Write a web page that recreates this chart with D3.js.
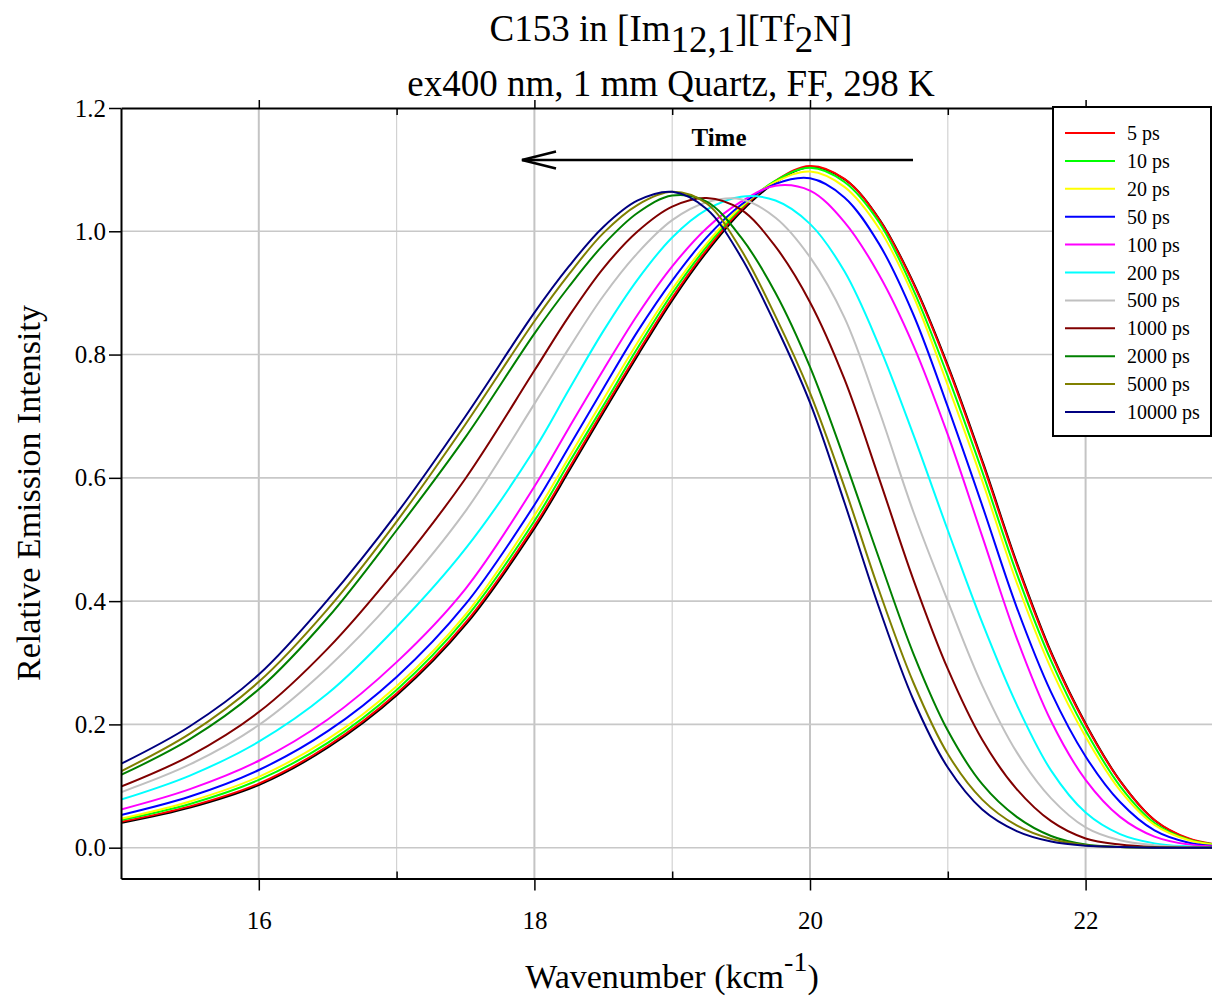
<!DOCTYPE html>
<html>
<head>
<meta charset="utf-8">
<script src="https://cdn.jsdelivr.net/npm/d3@7"></script>
<style>
  body { margin: 0; background: #fff; }
  svg { display: block; font-family: 'Liberation Serif', 'Times New Roman', serif; }
</style>
</head>
<body>
<svg id="chart" width="1212" height="996"></svg>
<script>
// wavenumber grid (kcm-1) the spectra were read at
const wavenumber = [15, 15.5, 16, 16.5, 17, 17.5, 18, 18.25, 18.5, 18.75, 19, 19.25, 19.5, 19.75,
  20, 20.25, 20.5, 20.75, 21, 21.25, 21.5, 21.75, 22, 22.25, 22.5, 22.75, 23];

const delays = ['5 ps', '10 ps', '20 ps', '50 ps', '100 ps', '200 ps', '500 ps',
  '1000 ps', '2000 ps', '5000 ps', '10000 ps'];

const intensity5 = [0.042, 0.067, 0.104, 0.165, 0.25, 0.365, 0.522, 0.615, 0.71, 0.803, 0.892, 0.97, 1.035, 1.082,
  1.106, 1.085, 1.02, 0.915, 0.78, 0.625, 0.46, 0.315, 0.2, 0.108, 0.045, 0.015, 0.004];
const intensity10 = [0.045, 0.071, 0.11, 0.17, 0.256, 0.372, 0.53, 0.624, 0.717, 0.811, 0.899, 0.975, 1.038, 1.082,
  1.103, 1.08, 1.015, 0.905, 0.765, 0.61, 0.445, 0.303, 0.19, 0.1, 0.04, 0.013, 0.004];
const intensity20 = [0.047, 0.075, 0.115, 0.176, 0.262, 0.378, 0.539, 0.633, 0.727, 0.82, 0.906, 0.98, 1.04, 1.08,
  1.097, 1.072, 1.005, 0.895, 0.75, 0.595, 0.43, 0.29, 0.18, 0.093, 0.037, 0.012, 0.003];
const intensity50 = [0.053, 0.083, 0.126, 0.189, 0.277, 0.395, 0.556, 0.65, 0.745, 0.838, 0.92, 0.99, 1.043, 1.077,
  1.086, 1.055, 0.98, 0.865, 0.715, 0.555, 0.39, 0.252, 0.148, 0.074, 0.028, 0.008, 0.002];
const intensity100 = [0.062, 0.095, 0.141, 0.208, 0.301, 0.42, 0.586, 0.681, 0.775, 0.865, 0.943, 1.005, 1.048, 1.074,
  1.066, 1.015, 0.93, 0.815, 0.67, 0.505, 0.34, 0.205, 0.11, 0.05, 0.018, 0.005, 0.001];
const intensity200 = [0.078, 0.117, 0.172, 0.25, 0.358, 0.485, 0.646, 0.743, 0.838, 0.922, 0.99, 1.035, 1.056, 1.05,
  1.012, 0.935, 0.815, 0.67, 0.515, 0.365, 0.232, 0.125, 0.057, 0.022, 0.007, 0.002, 0];
const intensity500 = [0.09, 0.135, 0.199, 0.292, 0.408, 0.546, 0.72, 0.81, 0.895, 0.965, 1.018, 1.047, 1.052, 1.022,
  0.958, 0.86, 0.71, 0.545, 0.4, 0.263, 0.155, 0.08, 0.033, 0.012, 0.004, 0.001, 0];
const intensity1000 = [0.099, 0.149, 0.22, 0.323, 0.452, 0.599, 0.774, 0.862, 0.94, 1.0, 1.04, 1.054, 1.035, 0.975,
  0.885, 0.76, 0.6, 0.435, 0.29, 0.175, 0.095, 0.043, 0.015, 0.005, 0.001, 0, 0];
const intensity2000 = [0.118, 0.176, 0.257, 0.373, 0.515, 0.666, 0.834, 0.91, 0.978, 1.03, 1.058, 1.048, 0.99, 0.9,
  0.78, 0.63, 0.47, 0.315, 0.19, 0.103, 0.05, 0.019, 0.005, 0.001, 0, 0, 0];
const intensity5000 = [0.124, 0.185, 0.269, 0.387, 0.529, 0.687, 0.854, 0.93, 0.997, 1.043, 1.064, 1.045, 0.97, 0.862,
  0.738, 0.585, 0.418, 0.268, 0.152, 0.078, 0.036, 0.014, 0.004, 0.001, 0, 0, 0];
const intensity10000 = [0.136, 0.197, 0.281, 0.402, 0.542, 0.7, 0.868, 0.943, 1.007, 1.05, 1.064, 1.036, 0.958, 0.848,
  0.722, 0.56, 0.39, 0.24, 0.13, 0.062, 0.027, 0.01, 0.003, 0.001, 0, 0, 0];

const xTicks = [16, 18, 20, 22];
const xMinorTicks = [17, 19, 21];
const yTicks = [0, 0.2, 0.4, 0.6, 0.8, 1.0, 1.2];
const yGrid = [0, 0.2, 0.4, 0.6, 0.8, 1.0];

const colors = ['#ff0000', '#00ff00', '#ffff00', '#0000ff', '#ff00ff', '#00ffff',
  '#c0c0c0', '#800000', '#008000', '#808000', '#000080'];

const series = [intensity5, intensity10, intensity20, intensity50, intensity100, intensity200,
  intensity500, intensity1000, intensity2000, intensity5000, intensity10000]
  .map((values, i) => ({ label: delays[i], values, color: colors[i] }));

const svg = d3.select('#chart');
const plotLeft = 121, plotTop = 108, plotBottom = 878.5, plotRight = 1212;

const x = d3.scaleLinear().domain([15, 23]).range([plotLeft, plotLeft + 8 * 137.8]);
const y = d3.scaleLinear().domain([-0.05, 1.2]).range([plotBottom, plotTop]);

svg.append('rect').attr('width', 1212).attr('height', 996).attr('fill', '#fff');

svg.append('clipPath').attr('id', 'plot-clip')
  .append('rect')
  .attr('x', plotLeft).attr('y', plotTop)
  .attr('width', plotRight - plotLeft).attr('height', plotBottom - plotTop);

// grid
const grid = svg.append('g').attr('class', 'grid');
grid.selectAll('.vgrid')
  .data(xTicks.concat(xMinorTicks))
  .enter().append('line')
  .attr('x1', d => x(d)).attr('x2', d => x(d))
  .attr('y1', plotTop).attr('y2', plotBottom)
  .attr('stroke', d => (d % 2 === 0 ? '#c4c4c4' : '#d2d2d2'))
  .attr('stroke-width', d => (d % 2 === 0 ? 2 : 1.2));
grid.selectAll('.hgrid')
  .data(yGrid)
  .enter().append('line')
  .attr('x1', plotLeft).attr('x2', plotRight)
  .attr('y1', d => y(d)).attr('y2', d => y(d))
  .attr('stroke', '#c8c8c8')
  .attr('stroke-width', 1.6);

// spectra
const line = d3.line()
  .x((d, i) => x(wavenumber[i]))
  .y(d => y(d))
  .curve(d3.curveCatmullRom.alpha(0.5));

const curves = svg.append('g').attr('clip-path', 'url(#plot-clip)');

// thin black edge that sits under the 5 ps trace
curves.append('path')
  .attr('d', line(intensity5))
  .attr('transform', 'translate(1,1)')
  .attr('fill', 'none')
  .attr('stroke', '#000')
  .attr('stroke-width', 2);

curves.selectAll('.spectrum')
  .data(series)
  .enter().append('path')
  .attr('class', 'spectrum')
  .attr('d', d => line(d.values))
  .attr('fill', 'none')
  .attr('stroke', d => d.color)
  .attr('stroke-width', 2)
  .attr('stroke-linejoin', 'round');

// axes
function styleAxis(g, fontSize) {
  g.attr('font-family', null).attr('font-size', fontSize);
  g.selectAll('.domain').attr('stroke', '#000').attr('stroke-width', 2);
  g.selectAll('.tick line').attr('stroke', '#000').attr('stroke-width', 1.5);
  g.selectAll('.tick text').attr('fill', '#000');
}

const axisY = d3.axisLeft(y).tickValues(yTicks).tickFormat(d3.format('.1f'))
  .tickSize(12).tickPadding(3).tickSizeOuter(0);
svg.append('g').attr('transform', `translate(${plotLeft},0)`).call(axisY).call(styleAxis, 25);

const axisX = d3.axisBottom(x).tickValues(xTicks).tickFormat(d3.format('d'))
  .tickSize(12).tickPadding(21).tickSizeOuter(0);
svg.append('g').attr('transform', `translate(0,${plotBottom})`).call(axisX).call(styleAxis, 25);

const axisXMinor = d3.axisBottom(x).tickValues(xMinorTicks).tickFormat('').tickSize(-7).tickSizeOuter(0);
svg.append('g').attr('transform', `translate(0,${plotBottom})`).call(axisXMinor).call(styleAxis, 25)
  .select('.domain').remove();

const axisTop = d3.axisTop(x).tickValues(xTicks).tickFormat('').tickSize(8).tickSizeOuter(0);
svg.append('g').attr('transform', `translate(0,${plotTop})`).call(axisTop).call(styleAxis, 25);

const axisTopMinor = d3.axisTop(x).tickValues(xMinorTicks).tickFormat('').tickSize(-7).tickSizeOuter(0);
svg.append('g').attr('transform', `translate(0,${plotTop})`).call(axisTopMinor).call(styleAxis, 25)
  .select('.domain').remove();

// titles
const title = svg.append('text')
  .attr('x', 671).attr('y', 41)
  .attr('text-anchor', 'middle').attr('font-size', 37);
title.append('tspan').text('C153 in [Im');
title.append('tspan').attr('dy', 11).text('12,1');
title.append('tspan').attr('dy', -11).text('][Tf');
title.append('tspan').attr('dy', 11).text('2');
title.append('tspan').attr('dy', -11).text('N]');

svg.append('text')
  .attr('x', 671).attr('y', 96)
  .attr('text-anchor', 'middle').attr('font-size', 37)
  .text('ex400 nm, 1 mm Quartz, FF, 298 K');

const xTitle = svg.append('text')
  .attr('x', 672).attr('y', 988)
  .attr('text-anchor', 'middle').attr('font-size', 34);
xTitle.append('tspan').text('Wavenumber (kcm');
xTitle.append('tspan').attr('dy', -17).attr('font-size', 28).text('-1');
xTitle.append('tspan').attr('dy', 17).text(')');

svg.append('text')
  .attr('transform', 'translate(40,493) rotate(-90)')
  .attr('text-anchor', 'middle').attr('font-size', 34)
  .text('Relative Emission Intensity');

// time arrow
svg.append('text')
  .attr('x', 719).attr('y', 146)
  .attr('text-anchor', 'middle').attr('font-size', 25).attr('font-weight', 'bold')
  .text('Time');
const arrow = svg.append('g').attr('stroke', '#000').attr('fill', 'none').attr('stroke-width', 2.5);
arrow.append('line').attr('x1', 522).attr('x2', 913).attr('y1', 160).attr('y2', 160);
arrow.append('path').attr('d', 'M556,151.5L522,160L556,168.5');

// legend
const legend = svg.append('g');
legend.append('rect')
  .attr('x', 1053).attr('y', 107).attr('width', 158).attr('height', 329)
  .attr('fill', '#fff').attr('stroke', '#000').attr('stroke-width', 2);

const rows = legend.selectAll('.row')
  .data(series)
  .enter().append('g')
  .attr('transform', (d, i) => `translate(0,${133 + i * 27.9})`);
rows.append('line')
  .attr('x1', 1065).attr('x2', 1115)
  .attr('stroke', d => d.color).attr('stroke-width', 2);
rows.append('text')
  .attr('x', 1127).attr('y', 7)
  .attr('font-size', 20)
  .text(d => d.label);
</script>
</body>
</html>
